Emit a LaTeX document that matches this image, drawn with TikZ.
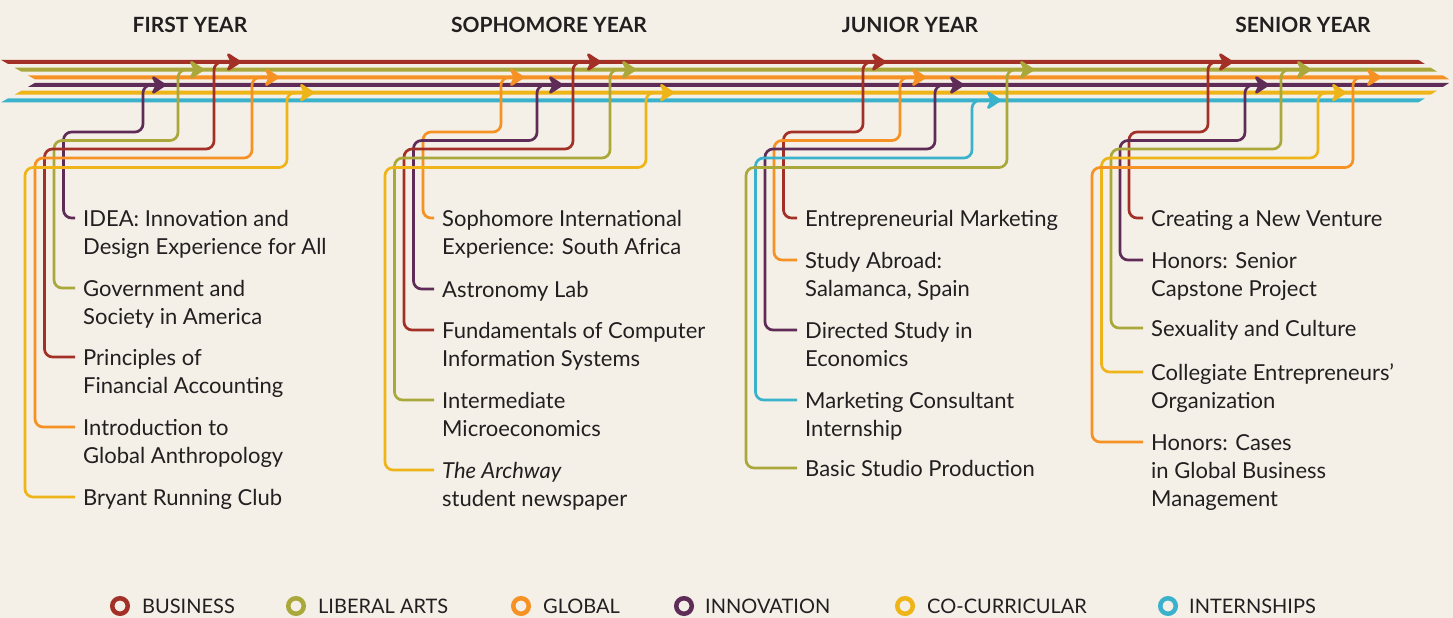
\documentclass[tikz,border=0pt]{standalone}
\usepackage{fontspec}
\setmainfont{Lato}
\usetikzlibrary{arrows.meta}
\definecolor{bg}{RGB}{244,240,232}
\definecolor{ink}{RGB}{35,31,32}
\definecolor{cbus}{RGB}{163,48,38}
\definecolor{clib}{RGB}{170,168,58}
\definecolor{cglo}{RGB}{245,146,35}
\definecolor{cinn}{RGB}{94,44,86}
\definecolor{ccoc}{RGB}{238,180,24}
\definecolor{cint}{RGB}{58,178,204}
\newcommand\ml[1]{\begin{tabular}[t]{@{}l@{}}#1\end{tabular}}
\begin{document}
\begin{tikzpicture}[x=1pt,y=-1pt,
  item/.style={anchor=base west, inner sep=0pt, text=ink, font=\fontsize{22}{28}\selectfont},
  hdr/.style={anchor=base, inner sep=0pt, text=ink, font=\bfseries\fontsize{21}{24}\selectfont},
  leg/.style={anchor=base west, inner sep=0pt, text=ink, font=\fontsize{20}{24}\selectfont},
  ring/.style={circle, minimum size=15.5pt, inner sep=0pt, line width=4.5pt},
  tip/.tip={Stealth[length=17pt,width=22pt,inset=5.5pt,round=false]},
  br/.style={line width=2.7pt, rounded corners=8pt, -tip}]
\fill[bg] (0,0) rectangle (1453,618);
\useasboundingbox (0,0) rectangle (1453,618);
% main lines
\foreach \c/\yy in {cbus/62, clib/69.66, cglo/77.32, cinn/84.98, ccoc/92.64, cint/100.3}{
  \pgfmathsetmacro\yt{\yy-2}
  \pgfmathsetmacro\yb{\yy+2}
  \pgfmathsetmacro\xlt{38-1.74*abs(\yt-81.15)}
  \pgfmathsetmacro\xlb{38-1.74*abs(\yb-81.15)}
  \pgfmathsetmacro\xrt{1452-1.58*abs(\yt-81.15)}
  \pgfmathsetmacro\xrb{1452-1.58*abs(\yb-81.15)}
  \fill[\c] (\xlt,\yt) -- (\xrt,\yt) -- (\xrb,\yb) -- (\xlb,\yb) -- cycle;
}
% headers
\node[hdr] (h1) at (190,32.5) {FIRST YEAR};
\node[hdr] (h2) at (549,32.5) {SOPHOMORE YEAR};
\node[hdr] (h3) at (910,32.5) {JUNIOR YEAR};
\node[hdr] (h4) at (1303,32.5) {SENIOR YEAR};
% first year
\node[item] (f1) at (83,226.5) {\ml{IDEA: Innovation and\\Design Experience for All}};
\node[item] (f2) at (83,296.5) {\ml{Government and\\Society in America}};
\node[item] (f3) at (83,365.5) {\ml{Principles of\\Financial Accounting}};
\node[item] (f4) at (83,435.5) {\ml{Introduction to\\Global Anthropology}};
\node[item] (f5) at (83,505.5) {\ml{Bryant Running Club}};
\coordinate (f1t) at (166,84.98);
\coordinate (f2t) at (204,69.66);
\coordinate (f3t) at (241,62);
\coordinate (f4t) at (279,77.32);
\coordinate (f5t) at (314,92.64);
\draw[br,cinn] ([shift={(-8,-8.5)}]f1.base west) -| (63.5,132) -| (143,84.98) -- (f1t);
\draw[br,clib] ([shift={(-8,-8.5)}]f2.base west) -| (54,140.5) -| (178,69.66) -- (f2t);
\draw[br,cbus] ([shift={(-8,-8.5)}]f3.base west) -| (44.5,149) -| (214,62) -- (f3t);
\draw[br,cglo] ([shift={(-8,-8.5)}]f4.base west) -| (35,158) -| (252,77.32) -- (f4t);
\draw[br,ccoc] ([shift={(-8,-8.5)}]f5.base west) -| (25,167.5) -| (287,92.64) -- (f5t);
% sophomore
\node[item] (s1) at (442,226.5) {\ml{Sophomore International\\Experience: South Africa}};
\node[item] (s2) at (442,297.5) {\ml{Astronomy Lab}};
\node[item] (s3) at (442,338.5) {\ml{Fundamentals of Computer\\Information Systems}};
\node[item] (s4) at (442,408.5) {\ml{Intermediate\\Microeconomics}};
\node[item] (s5) at (442,478.5) {\ml{\textit{The Archway}\\student newspaper}};
\coordinate (s1t) at (524,77.32);
\coordinate (s2t) at (563,84.98);
\coordinate (s3t) at (601,62);
\coordinate (s4t) at (636,69.66);
\coordinate (s5t) at (674,92.64);
\draw[br,cglo] ([shift={(-8,-8.5)}]s1.base west) -| (423,132) -| (501,77.32) -- (s1t);
\draw[br,cinn] ([shift={(-8,-8.5)}]s2.base west) -| (413.5,140.5) -| (537,84.98) -- (s2t);
\draw[br,cbus] ([shift={(-8,-8.5)}]s3.base west) -| (404,149) -| (573,62) -- (s3t);
\draw[br,clib] ([shift={(-8,-8.5)}]s4.base west) -| (394.5,158) -| (610,69.66) -- (s4t);
\draw[br,ccoc] ([shift={(-8,-8.5)}]s5.base west) -| (385,167.5) -| (646,92.64) -- (s5t);
% junior
\node[item] (j1) at (805,226.5) {\ml{Entrepreneurial Marketing}};
\node[item] (j2) at (805,268.5) {\ml{Study Abroad:\\Salamanca, Spain}};
\node[item] (j3) at (805,338.5) {\ml{Directed Study in\\Economics}};
\node[item] (j4) at (805,408.5) {\ml{Marketing Consultant\\Internship}};
\node[item] (j5) at (805,476.5) {\ml{Basic Studio Production}};
\coordinate (j1t) at (886,62);
\coordinate (j2t) at (926,77.32);
\coordinate (j3t) at (964,84.98);
\coordinate (j4t) at (1001,100.3);
\coordinate (j5t) at (1034,69.66);
\draw[br,cbus] ([shift={(-8,-8.5)}]j1.base west) -| (783.5,132) -| (863,62) -- (j1t);
\draw[br,cglo] ([shift={(-8,-8.5)}]j2.base west) -| (774,140.5) -| (900,77.32) -- (j2t);
\draw[br,cinn] ([shift={(-8,-8.5)}]j3.base west) -| (765,149) -| (935,84.98) -- (j3t);
\draw[br,cint] ([shift={(-8,-8.5)}]j4.base west) -| (755.5,158) -| (972,100.3) -- (j4t);
\draw[br,clib] ([shift={(-8,-8.5)}]j5.base west) -| (746,167.5) -| (1007,69.66) -- (j5t);
% senior
\node[item] (n1) at (1151,226.5) {\ml{Creating a New Venture}};
\node[item] (n2) at (1151,268.5) {\ml{Honors: Senior\\Capstone Project}};
\node[item] (n3) at (1151,336.5) {\ml{Sexuality and Culture}};
\node[item] (n4) at (1151,380.5) {\ml{Collegiate Entrepreneurs’\\Organization}};
\node[item] (n5) at (1151,450.5) {\ml{Honors: Cases\\in Global Business\\Management}};
\coordinate (n1t) at (1233,62);
\coordinate (n2t) at (1269,84.98);
\coordinate (n3t) at (1311,69.66);
\coordinate (n4t) at (1346,92.64);
\coordinate (n5t) at (1381,77.32);
\draw[br,cbus] ([shift={(-8,-8.5)}]n1.base west) -| (1129,132) -| (1208,62) -- (n1t);
\draw[br,cinn] ([shift={(-8,-8.5)}]n2.base west) -| (1120,140.5) -| (1245,84.98) -- (n2t);
\draw[br,clib] ([shift={(-8,-8.5)}]n3.base west) -| (1111,149) -| (1281,69.66) -- (n3t);
\draw[br,ccoc] ([shift={(-8,-8.5)}]n4.base west) -| (1101.5,158) -| (1318,92.64) -- (n4t);
\draw[br,cglo] ([shift={(-8,-8.5)}]n5.base west) -| (1092,167.5) -| (1353,77.32) -- (n5t);
% legend
\node[ring,draw=cbus] (r1) at (120,606) {};
\node[leg] (l1) at (142,613) {BUSINESS};
\node[ring,draw=clib] (r2) at (296,606) {};
\node[leg] (l2) at (318,613) {LIBERAL ARTS};
\node[ring,draw=cglo] (r3) at (521,606) {};
\node[leg] (l3) at (543,613) {GLOBAL};
\node[ring,draw=cinn] (r4) at (684,606) {};
\node[leg] (l4) at (705,613) {INNOVATION};
\node[ring,draw=ccoc] (r5) at (905,606) {};
\node[leg] (l5) at (927,613) {CO-CURRICULAR};
\node[ring,draw=cint] (r6) at (1168,606) {};
\node[leg] (l6) at (1189,613) {INTERNSHIPS};
\end{tikzpicture}
\end{document}
